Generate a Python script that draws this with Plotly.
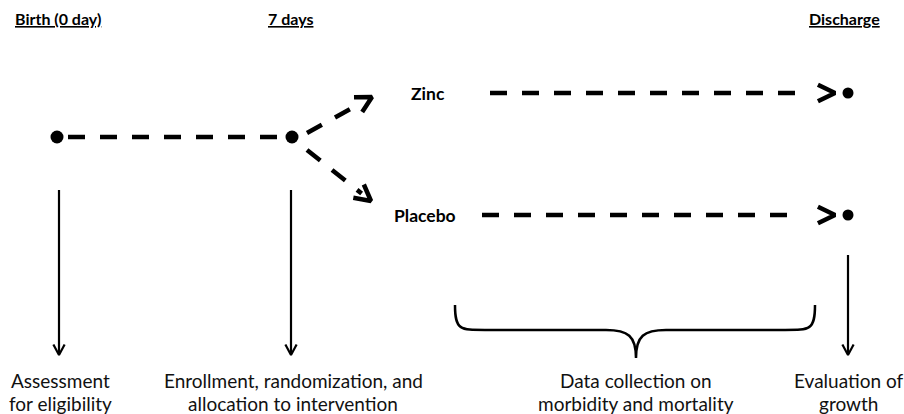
import math
import plotly.graph_objects as go

# ---- diagram content (pixel-space layout units) ----
stage_titles = ["Birth (0 day)", "7 days", "Discharge"]
stage_title_x = [58, 290, 844]
title_y = 18

timeline_y = 137
node_x = [57, 292]           # birth node, 7-day node
end_node_x = 848

arm_names = ["Zinc", "Placebo"]
arm_y = [93, 215]
arm_label_x = [447, 458]     # right edge of arm labels
arm_line_start = [490, 482]
arm_line_end = 800
arm_tip_x = 835

branch_start = [(307, 133), (307, 150)]
branch_tip = [(372, 97), (371, 201)]

vert_arrows_x = [59, 291, 848]
vert_arrows_top = [190, 190, 255]
vert_arrows_tip = 355

bottom_line1 = ["Assessment", "Enrollment, randomization, and", "Data collection on", "Evaluation of"]
bottom_line2 = ["for eligibility", "allocation to intervention", "morbidity and mortality", "growth"]
bottom_x = [60, 293, 636, 848]
bottom_y = [380, 403]

brace_left, brace_right, brace_mid = 455, 815, 636
brace_top, brace_bar, brace_tip = 305, 330, 358

FONT = "Lato"
BLACK = "#000000"
TEXT = "#111111"

fig = go.Figure()


def chevron(tip, frm, length, half_angle_deg):
    tx, ty = tip
    dx, dy = tx - frm[0], ty - frm[1]
    n = math.hypot(dx, dy)
    ux, uy = dx / n, dy / n
    a = math.radians(half_angle_deg)
    pts = []
    for s in (1, -1):
        ca, sa = math.cos(s * a), math.sin(s * a)
        bx = -(ux * ca - uy * sa)
        by = -(ux * sa + uy * ca)
        pts.append((tx + bx * length, ty + by * length))
    return [pts[0][0], tx, pts[1][0]], [pts[0][1], ty, pts[1][1]]


def add_line(xs, ys, width, dash=None):
    fig.add_trace(go.Scatter(
        x=xs, y=ys, mode="lines", hoverinfo="skip", showlegend=False,
        line=dict(color=BLACK, width=width, dash=dash),
    ))


DASH = "17px,15px"

# birth -> 7 days dashed timeline
add_line([node_x[0] + 11, node_x[1] - 8], [timeline_y, timeline_y], 4.5, DASH)

# branches to the arms
for (sx, sy), (tx, ty) in zip(branch_start, branch_tip):
    n = math.hypot(tx - sx, ty - sy)
    ex = tx - (tx - sx) / n * 12
    ey = ty - (ty - sy) / n * 12
    add_line([sx, ex], [sy, ey], 4.5, DASH)
    cx, cy = chevron((tx, ty), (sx, sy), 18, 28)
    add_line(cx, cy, 4.5)

# arm dashed lines with chevrons
for y0, xs0 in zip(arm_y, arm_line_start):
    add_line([xs0, arm_line_end], [y0, y0], 4.5, DASH)
    cx, cy = chevron((arm_tip_x, y0), (arm_line_end, y0), 19, 26)
    add_line(cx, cy, 4.5)

# vertical thin arrows
for x0, top in zip(vert_arrows_x, vert_arrows_top):
    add_line([x0, x0], [top, vert_arrows_tip - 1], 2.2)
    cx, cy = chevron((x0, vert_arrows_tip), (x0, top), 12, 28)
    add_line(cx, cy, 2.2)

# nodes
fig.add_trace(go.Scatter(
    x=node_x + [end_node_x, end_node_x],
    y=[timeline_y, timeline_y] + arm_y,
    mode="markers", hoverinfo="skip", showlegend=False,
    marker=dict(color=BLACK, size=[13, 13, 11, 11], opacity=1, line=dict(width=0)),
))

# curly brace
r = 20
path = (
    f"M {brace_left},{brace_top} "
    f"C {brace_left},{brace_bar} {brace_left + 5},{brace_bar} {brace_left + r + 10},{brace_bar} "
    f"L {brace_mid - 30},{brace_bar} "
    f"C {brace_mid - 8},{brace_bar} {brace_mid},{brace_bar + 6} {brace_mid},{brace_tip} "
    f"C {brace_mid},{brace_bar + 6} {brace_mid + 8},{brace_bar} {brace_mid + 30},{brace_bar} "
    f"L {brace_right - r - 10},{brace_bar} "
    f"C {brace_right - 5},{brace_bar} {brace_right},{brace_bar} {brace_right},{brace_top}"
)
fig.add_shape(type="path", path=path, xref="x", yref="y",
              line=dict(color=BLACK, width=2.5))

# headers
for t, x0 in zip(stage_titles, stage_title_x):
    fig.add_annotation(x=x0, y=title_y, text=f"<u><b>{t}</b></u>", showarrow=False,
                       xanchor="center", yanchor="middle",
                       font=dict(family=FONT, size=16, color=BLACK))

# arm labels
for name, y0, xr in zip(arm_names, arm_y, arm_label_x):
    fig.add_annotation(x=xr, y=y0, text=f"<b>{name}</b>", showarrow=False,
                       xanchor="right", yanchor="middle",
                       font=dict(family=FONT, size=17.5, color=BLACK))

# bottom labels
for lines, y0 in zip([bottom_line1, bottom_line2], bottom_y):
    for t, x0 in zip(lines, bottom_x):
        fig.add_annotation(x=x0, y=y0, text=t, showarrow=False,
                           xanchor="center", yanchor="middle", align="center",
                           font=dict(family=FONT, size=19, color=TEXT))

fig.update_layout(
    width=904, height=414,
    margin=dict(l=0, r=0, t=0, b=0),
    paper_bgcolor="white", plot_bgcolor="white",
    xaxis=dict(range=[0, 904], visible=False, fixedrange=True),
    yaxis=dict(range=[414, 0], visible=False, fixedrange=True),
    showlegend=False,
)

fig.write_html(
    "out.html",
    config={"displayModeBar": False},
    post_script="document.body.style.margin='0px';document.body.style.overflow='hidden';",
)
